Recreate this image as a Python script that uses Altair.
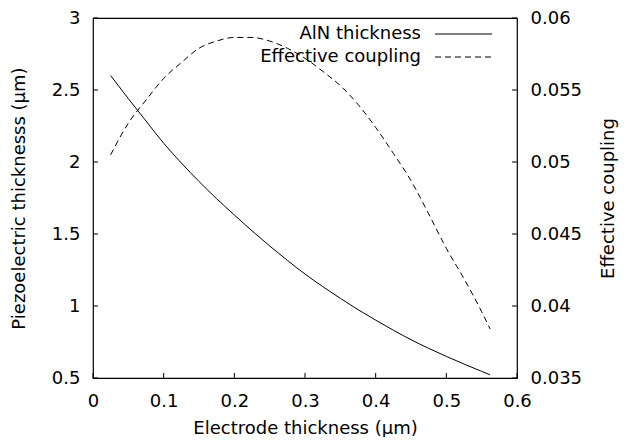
import altair as alt
import pandas as pd

# ---- data ----
electrode = [0.025, 0.05, 0.075, 0.1, 0.125, 0.15, 0.175, 0.2, 0.225, 0.25, 0.275,
             0.3, 0.325, 0.35, 0.375, 0.4, 0.425, 0.45, 0.475, 0.5, 0.525, 0.55, 0.562]
aln_thickness = [2.60, 2.44, 2.285, 2.13, 1.993, 1.865, 1.745, 1.632, 1.522, 1.417, 1.317,
                 1.222, 1.135, 1.053, 0.975, 0.902, 0.832, 0.766, 0.706, 0.65, 0.597, 0.546, 0.522]
eff_coupling = [0.0505, 0.0527, 0.0543, 0.0558, 0.0569, 0.0579, 0.0584, 0.05865, 0.05865,
                0.0584, 0.0579, 0.0572, 0.0563, 0.0553, 0.0540, 0.0524, 0.0506, 0.0487,
                0.0464, 0.0440, 0.0419, 0.0396, 0.0384]
series_names = ["AlN thickness", "Effective coupling"]
x_ticks = [0, 0.1, 0.2, 0.3, 0.4, 0.5, 0.6]
left_ticks = [0.5, 1, 1.5, 2, 2.5, 3]
right_ticks = [0.035, 0.04, 0.045, 0.05, 0.055, 0.06]

FONT = "DejaVu Sans"
FS = 18
W, H = 424, 360

df_aln = pd.DataFrame({"x": electrode, "y": aln_thickness})
df_k = pd.DataFrame({"x": electrode, "y": eff_coupling})

x_enc = alt.X("x:Q", scale=alt.Scale(domain=[0, 0.6], nice=False, zero=False),
              axis=alt.Axis(values=x_ticks, format="~g", title="Electrode thickness (μm)",
                            domain=False, ticks=False, tickSize=0, grid=False,
                            labelPadding=23, labelBaseline="middle", labelFontSize=FS,
                            labelFlush=False, labelOverlap=False,
                            titleFontSize=FS, titleFontWeight="normal",
                            titleBaseline="middle", titleAlign="center",
                            titleX=W / 2, titleY=50))

yl_enc = alt.Y("y:Q", scale=alt.Scale(domain=[0.5, 3], nice=False, zero=False),
               axis=alt.Axis(values=left_ticks, format="~g",
                             title="Piezoelectric thicknesss (μm)", orient="left",
                             domain=False, ticks=False, tickSize=0, grid=False,
                             labelPadding=13, labelFontSize=FS, labelFlush=False,
                             labelOverlap=False,
                             titleFontSize=FS, titleFontWeight="normal", titleAngle=270,
                             titleBaseline="middle", titleAlign="center",
                             titleX=-74, titleY=H / 2))

yr_enc = alt.Y("y:Q", scale=alt.Scale(domain=[0.035, 0.06], nice=False, zero=False),
               axis=alt.Axis(values=right_ticks, format="~g",
                             title="Effective coupling", orient="right",
                             domain=False, ticks=False, tickSize=0, grid=False,
                             labelPadding=13, labelFontSize=FS, labelFlush=False,
                             labelOverlap=False,
                             titleFontSize=FS, titleFontWeight="normal", titleAngle=270,
                             titleBaseline="middle", titleAlign="center",
                             titleX=91, titleY=H / 2))

aln_line = alt.Chart(df_aln).mark_line(color="black", strokeWidth=1,
                                       interpolate="monotone").encode(x=x_enc, y=yl_enc)
k_line = alt.Chart(df_k).mark_line(color="black", strokeWidth=1, strokeDash=[6, 4],
                                   interpolate="monotone").encode(x=x_enc, y=yr_enc)

# inward ticks
bt = alt.Chart(pd.DataFrame({"x": x_ticks})).mark_rule(color="black", strokeWidth=1).encode(
    x=x_enc, y=alt.value(H), y2=alt.value(H - 5))
lt = alt.Chart(pd.DataFrame({"y": left_ticks})).mark_rule(color="black", strokeWidth=1).encode(
    y=yl_enc, x=alt.value(0), x2=alt.value(5))
rt = alt.Chart(pd.DataFrame({"y": right_ticks})).mark_rule(color="black", strokeWidth=1).encode(
    y=yr_enc, x=alt.value(W), x2=alt.value(W - 5))

# legend (top right, label then sample)
leg1_t = alt.Chart(pd.DataFrame({"label": [series_names[0]]})).mark_text(
    align="right", baseline="middle", fontSize=FS, font=FONT, color="black").encode(
    text="label:N", x=alt.value(328), y=alt.value(16))
leg2_t = alt.Chart(pd.DataFrame({"label": [series_names[1]]})).mark_text(
    align="right", baseline="middle", fontSize=FS, font=FONT, color="black").encode(
    text="label:N", x=alt.value(328), y=alt.value(39))
leg1_l = alt.Chart(pd.DataFrame({"label": [series_names[0]]})).mark_rule(
    color="black", strokeWidth=1).encode(x=alt.value(342), x2=alt.value(399), y=alt.value(16))
leg2_l = alt.Chart(pd.DataFrame({"label": [series_names[1]]})).mark_rule(
    color="black", strokeWidth=1, strokeDash=[6, 4]).encode(
    x=alt.value(342), x2=alt.value(399), y=alt.value(39))

left_layer = alt.layer(aln_line, lt, bt, leg1_t, leg2_t, leg1_l, leg2_l)
right_layer = alt.layer(k_line, rt)

chart = alt.layer(left_layer, right_layer).resolve_scale(y="independent").properties(
    width=W, height=H, autosize="none",
    padding={"left": 85, "top": 10, "right": 102, "bottom": 59},
).configure(font=FONT).configure_view(stroke="black", strokeWidth=1.2).configure_axis(
    labelColor="black", titleColor="black", labelFont=FONT, titleFont=FONT)

chart.save("out.html", embed_options={"renderer": "svg", "actions": False})
